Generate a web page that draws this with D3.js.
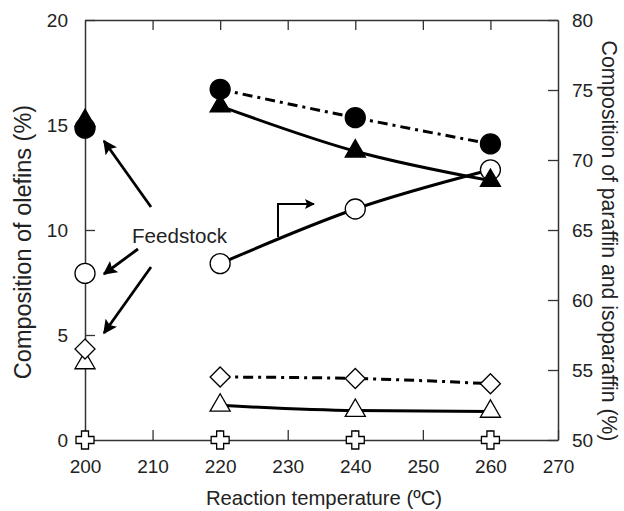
<!DOCTYPE html>
<html>
<head>
<meta charset="utf-8">
<script src="https://cdn.jsdelivr.net/npm/d3@7"></script>
<style>
  html, body { margin: 0; padding: 0; background: #fff; }
  svg text { font-family: "Liberation Sans", Arial, sans-serif; fill: #222; }
</style>
</head>
<body>
<svg id="chart" width="624" height="511"></svg>
<script>
// Reaction temperatures (ºC); 200 is the feedstock
const temps = [200, 220, 240, 260];
const xTicks = [200, 210, 220, 230, 240, 250, 260, 270];
const yLeftTicks = [0, 5, 10, 15, 20];
const yRightTicks = [50, 55, 60, 65, 70, 75, 80];

// Olefin compositions (%) — left axis
const filledCircle = [14.85, 16.7, 15.35, 14.1];
const filledTriangle = [15.2, 15.9, 13.75, 12.35];
const openDiamond = [4.33, 3.0, 2.93, 2.68];
const openTriangle = [3.67, 1.65, 1.4, 1.36];
const openCross = [0, 0, 0, 0];

// Paraffin + isoparaffin composition (%) — right axis
const openCircle = [61.9, 62.6, 66.5, 69.3];

const svg = d3.select("#chart");
const plotLeft = 85, plotRight = 558, plotTop = 20, plotBottom = 440;

const x = d3.scaleLinear().domain([200, 270]).range([plotLeft, plotRight]);
const yL = d3.scaleLinear().domain([0, 20]).range([plotBottom, plotTop]);
const yR = d3.scaleLinear().domain([50, 80]).range([plotBottom, plotTop]);

const axisColor = "#333";
function styleAxis(g) {
  g.select(".domain").attr("stroke", axisColor).attr("stroke-width", 1.5);
  g.selectAll(".tick line").attr("stroke", axisColor).attr("stroke-width", 1.3);
  g.selectAll(".tick text").attr("font-size", 19).attr("fill", "#222")
    .style("font-family", "'Liberation Sans', Arial, sans-serif");
}

// Axes with inward ticks
svg.append("g").attr("transform", `translate(0,${plotBottom})`)
  .call(d3.axisBottom(x).tickValues(xTicks).tickSizeInner(-10).tickSizeOuter(0).tickPadding(20).tickFormat(d3.format("d")))
  .call(styleAxis);
svg.append("g").attr("transform", `translate(0,${plotTop})`)
  .call(d3.axisTop(x).tickValues(xTicks.slice(1, -1)).tickSizeInner(-10).tickSizeOuter(0).tickFormat(""))
  .call(styleAxis);
svg.append("g").attr("transform", `translate(${plotLeft},0)`)
  .call(d3.axisLeft(yL).tickValues(yLeftTicks).tickSizeInner(-10).tickSizeOuter(0).tickPadding(17).tickFormat(d3.format("d")))
  .call(styleAxis);
svg.append("g").attr("transform", `translate(${plotRight},0)`)
  .call(d3.axisRight(yR).tickValues(yRightTicks).tickSizeInner(-10).tickSizeOuter(0).tickPadding(14).tickFormat(d3.format("d")))
  .call(styleAxis);

// Axis titles
svg.append("text").attr("x", 324).attr("y", 505)
  .attr("text-anchor", "middle").attr("font-size", 20.3).text("Reaction temperature (ºC)");
svg.append("text").attr("transform", "translate(31,242) rotate(-90)")
  .attr("text-anchor", "middle").attr("font-size", 23.5).text("Composition of olefins (%)");
svg.append("text").attr("transform", "translate(602,241) rotate(90)")
  .attr("text-anchor", "middle").attr("font-size", 21.2).text("Composition of paraffin and isoparaffin (%)");

// Reactor-product series lines (220–260 ºC)
const dashDot = "10,5,3,5";
function drawLine(vals, yScale, dash) {
  const pts = temps.slice(1).map((t, i) => [x(t), yScale(vals[i + 1])]);
  svg.append("path")
    .attr("d", d3.line().curve(d3.curveMonotoneX)(pts))
    .attr("fill", "none").attr("stroke", "#000").attr("stroke-width", 3)
    .attr("stroke-dasharray", dash || null);
}
drawLine(filledCircle, yL, dashDot);
drawLine(filledTriangle, yL);
drawLine(openCircle, yR);
drawLine(openDiamond, yL, dashDot);
drawLine(openTriangle, yL);

// Marker shapes
const tri = d3.symbol().type(d3.symbolTriangle).size(175)();
const diamond = "M0,-10L10,0L0,10L-10,0Z";
const a = 9, w = 3.5;
const cross = `M${-w},${-a}H${w}V${-w}H${a}V${w}H${w}V${a}H${-w}V${w}H${-a}V${-w}H${-w}Z`;

function drawMarkers(vals, yScale, shape, fill) {
  const g = svg.append("g");
  temps.forEach((t, i) => {
    const cx = x(t), cy = yScale(vals[i]);
    if (shape === "circle") {
      g.append("circle").attr("cx", cx).attr("cy", cy).attr("r", 10)
        .attr("fill", fill).attr("stroke", "#000").attr("stroke-width", 1.3);
    } else {
      g.append("path").attr("d", shape).attr("transform", `translate(${cx},${cy})`)
        .attr("fill", fill).attr("stroke", "#000").attr("stroke-width", 1.3);
    }
  });
}
drawMarkers(openCross, yL, cross, "#fff");
drawMarkers(openTriangle, yL, tri, "#fff");
drawMarkers(openDiamond, yL, diamond, "#fff");
drawMarkers(openCircle, yR, "circle", "#fff");
drawMarkers(filledTriangle, yL, tri, "#000");
drawMarkers(filledCircle, yL, "circle", "#000");

// Arrowhead definition
svg.append("defs").append("marker")
  .attr("id", "head").attr("viewBox", "0 0 10 10").attr("refX", 9).attr("refY", 5)
  .attr("markerWidth", 5).attr("markerHeight", 5).attr("orient", "auto")
  .attr("markerUnits", "strokeWidth")
  .append("path").attr("d", "M0,0L10,5L0,10L2,5Z").attr("fill", "#000");

// Feedstock label and its pointers
svg.append("text").attr("x", 132).attr("y", 243).attr("font-size", 20.6).text("Feedstock");
const pointers = [
  [[151, 207], [104, 141]],
  [[138, 249], [104, 274]],
  [[151, 267], [104, 333]]
];
pointers.forEach(([p0, p1]) => {
  svg.append("line").attr("x1", p0[0]).attr("y1", p0[1]).attr("x2", p1[0]).attr("y2", p1[1])
    .attr("stroke", "#000").attr("stroke-width", 2.8).attr("marker-end", "url(#head)");
});

// Right-axis indicator for the open-circle series
svg.append("path").attr("d", "M278,237V204H314")
  .attr("fill", "none").attr("stroke", "#000").attr("stroke-width", 2)
  .attr("marker-end", "url(#head)");
</script>
</body>
</html>
